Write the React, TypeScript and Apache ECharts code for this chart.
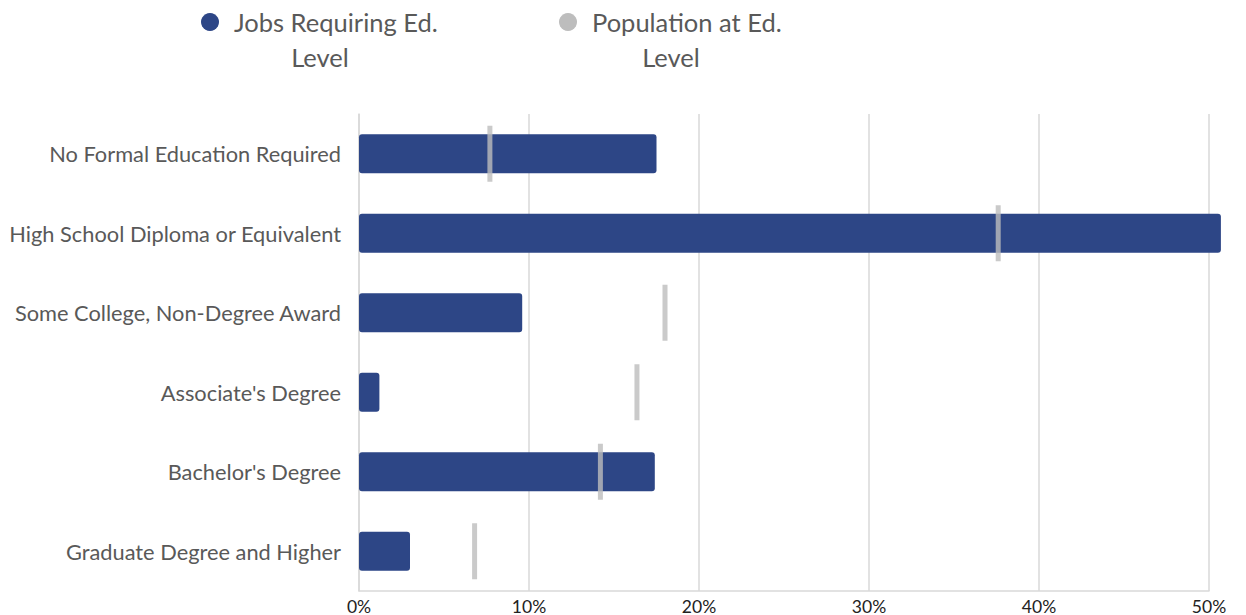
import React, { useEffect, useRef } from "react";
import * as echarts from "echarts";

const categories = [
  "No Formal Education Required",
  "High School Diploma or Equivalent",
  "Some College, Non-Degree Award",
  "Associate's Degree",
  "Bachelor's Degree",
  "Graduate Degree and Higher",
];
const jobsRequiring = [17.5, 50.7, 9.6, 1.2, 17.4, 3.0];
const populationAt = [7.7, 37.6, 18.0, 16.35, 14.2, 6.8];
const xTicks = [0, 10, 20, 30, 40, 50];

const FONT = "Lato, 'Open Sans', sans-serif";
const TEXT = "#595959";
const NAVY = "#2d4686";
const GRAY = "#bdbdbd";

export default function App() {
  const ref = useRef<HTMLDivElement>(null);
  useEffect(() => {
    if (!ref.current) return;
    const chart = echarts.init(ref.current, undefined, { renderer: "svg" });
    chart.setOption({
      animation: false,
      grid: { left: 359, right: 37, top: 114, bottom: 24, containLabel: false },
      xAxis: {
        type: "value",
        min: xTicks[0],
        max: xTicks[xTicks.length - 1],
        interval: 10,
        axisLine: { show: true, lineStyle: { color: "#d9d9d9", width: 1.5 } },
        axisTick: { show: false },
        splitLine: { show: true, lineStyle: { color: "#d9d9d9", width: 1.5 } },
        axisLabel: {
          formatter: "{value}%",
          color: "#222",
          fontFamily: FONT,
          fontSize: 17.5,
          margin: 6,
        },
      },
      yAxis: {
        type: "category",
        inverse: true,
        data: categories,
        axisLine: { show: true, lineStyle: { color: "#d9d9d9", width: 1.5 } },
        axisTick: { show: false },
        axisLabel: { color: TEXT, fontFamily: FONT, fontSize: 21.8, margin: 18 },
      },
      series: [
        {
          name: "Jobs Requiring Ed. Level",
          type: "bar",
          data: jobsRequiring,
          barWidth: 39,
          clip: false,
          itemStyle: { color: NAVY, borderRadius: 3 },
          z: 2,
        },
        {
          name: "Population at Ed. Level",
          type: "scatter",
          data: populationAt.map((v, i) => [v, categories[i]]),
          symbol: "rect",
          symbolSize: [5, 56],
          itemStyle: { color: GRAY },
          z: 3,
        },
      ],
      graphic: [
        { type: "circle", shape: { cx: 210, cy: 22, r: 9 }, style: { fill: NAVY } },
        {
          type: "text",
          x: 234,
          y: 22,
          style: { text: "Jobs Requiring Ed.", font: `25.5px ${FONT}`, fill: TEXT, textAlign: "left", textVerticalAlign: "middle" },
        },
        {
          type: "text",
          x: 320,
          y: 57,
          style: { text: "Level", font: `25.5px ${FONT}`, fill: TEXT, textAlign: "center", textVerticalAlign: "middle" },
        },
        { type: "circle", shape: { cx: 568, cy: 22, r: 9 }, style: { fill: GRAY } },
        {
          type: "text",
          x: 592,
          y: 22,
          style: { text: "Population at Ed.", font: `25.5px ${FONT}`, fill: TEXT, textAlign: "left", textVerticalAlign: "middle" },
        },
        {
          type: "text",
          x: 671,
          y: 57,
          style: { text: "Level", font: `25.5px ${FONT}`, fill: TEXT, textAlign: "center", textVerticalAlign: "middle" },
        },
      ],
    });
    return () => chart.dispose();
  }, []);
  return (
    <div
      ref={ref}
      style={{ position: "absolute", left: 0, top: 0, width: 1246, height: 615 }}
    />
  );
}
